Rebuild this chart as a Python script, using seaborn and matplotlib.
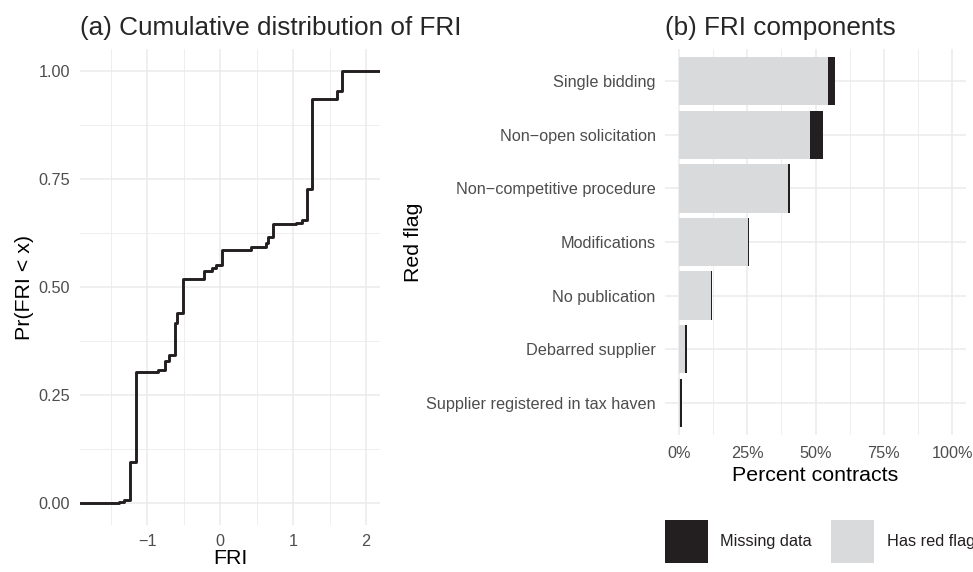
import numpy as np
import pandas as pd
import matplotlib
matplotlib.use("Agg")
import matplotlib.pyplot as plt
from matplotlib.patches import Patch
from matplotlib.ticker import FuncFormatter, MultipleLocator
import seaborn as sns

# ---------------- data ----------------
# Panel (a): ECDF of FRI, jump locations and cumulative share after each jump
fri_x = [-1.39, -1.32, -1.233, -1.15, -0.845, -0.753, -0.694, -0.616, -0.594,
         -0.511, -0.219, -0.114, -0.055, 0.023, 0.42, 0.63, 0.662, 0.73,
         1.04, 1.12, 1.196, 1.265, 1.598, 1.676]
fri_cdf = [0.002, 0.008, 0.096, 0.304, 0.308, 0.329, 0.343, 0.416, 0.441,
           0.518, 0.537, 0.545, 0.551, 0.585, 0.593, 0.601, 0.616, 0.646,
           0.649, 0.655, 0.726, 0.935, 0.952, 1.0]
fri_xlim = (-1.92, 2.19)
fri_xticks = [-1, 0, 1, 2]
fri_yticks = [0.0, 0.25, 0.5, 0.75, 1.0]

# Panel (b): FRI components
flags = ["Single bidding", "Non\u2212open solicitation", "Non\u2212competitive procedure",
         "Modifications", "No publication", "Debarred supplier",
         "Supplier registered in tax haven"]
has_flag = [0.544, 0.480, 0.401, 0.251, 0.117, 0.022, 0.004]
missing = [0.027, 0.047, 0.005, 0.005, 0.005, 0.006, 0.007]
pct_ticks = [0, 0.25, 0.5, 0.75, 1.0]
legend_labels = ["Missing data", "Has red flag"]

# ---------------- style ----------------
sns.set_theme(style="white")
plt.rcParams["font.family"] = ["Liberation Sans", "DejaVu Sans"]
GRID = "#ebebeb"
TICK = "#4d4d4d"
BLACK = "#231f20"
GREY = "#d9dadb"
TICK_FS = 11.7
LAB_FS = 15.4
TITLE_FS = 18.8

fig = plt.figure(figsize=(9.73, 5.72), dpi=100)
W, H = 973, 572


def add_ax(l, t, r, b):
    return fig.add_axes([l / W, 1 - b / H, (r - l) / W, (b - t) / H])


def style(ax, xpad=8):
    for s in ax.spines.values():
        s.set_visible(False)
    ax.tick_params(axis="both", which="both", length=0, colors=TICK,
                   labelsize=TICK_FS)
    ax.tick_params(axis="x", pad=xpad)
    ax.tick_params(axis="y", pad=7)
    ax.set_axisbelow(True)


# ---------------- panel (a) ----------------
ax1 = add_ax(80, 49, 380, 525)
style(ax1, xpad=6.5)
ecdf_df = pd.DataFrame({
    "FRI": [fri_xlim[0]] + fri_x + [fri_xlim[1]],
    "p": [0.0] + fri_cdf + [fri_cdf[-1]],
})
sns.lineplot(data=ecdf_df, x="FRI", y="p", drawstyle="steps-post",
             color=BLACK, linewidth=2.1, ax=ax1)
ax1.set_xlim(*fri_xlim)
ax1.set_ylim(-0.05, 1.05)
ax1.set_xticks(fri_xticks)
ax1.set_xticklabels([str(t).replace("-", "\u2212") for t in fri_xticks])
ax1.xaxis.set_minor_locator(MultipleLocator(0.5))
ax1.set_yticks(fri_yticks)
ax1.set_yticklabels([f"{t:.2f}" for t in fri_yticks])
ax1.yaxis.set_minor_locator(MultipleLocator(0.125))
ax1.grid(which="major", color=GRID, linewidth=1.1)
ax1.grid(which="minor", color=GRID, linewidth=0.6)
ax1.set_xlabel("FRI", fontsize=LAB_FS, color="black", labelpad=0)
ax1.set_ylabel("Pr(FRI < x)", fontsize=LAB_FS, color="black", labelpad=3)
ax1.set_title("(a) Cumulative distribution of FRI", fontsize=TITLE_FS,
              loc="left", pad=10, x=0.0)

# ---------------- panel (b) ----------------
ax2 = add_ax(665.3, 49, 965.7, 435)
style(ax2)
bar_df = pd.DataFrame({
    "flag": flags,
    "has": has_flag,
    "total": [h + m for h, m in zip(has_flag, missing)],
})
sns.barplot(data=bar_df, y="flag", x="total", orient="h", color=BLACK,
            saturation=1, width=0.9, ax=ax2, order=flags, linewidth=0)
sns.barplot(data=bar_df, y="flag", x="has", orient="h", color=GREY,
            saturation=1, width=0.9, ax=ax2, order=flags, linewidth=0)
ax2.set_xlim(-0.05, 1.05)
ax2.set_ylim(len(flags) - 0.4, -0.6)
ax2.set_xticks(pct_ticks)
ax2.xaxis.set_major_formatter(FuncFormatter(lambda v, p: f"{v*100:.0f}%"))
ax2.xaxis.set_minor_locator(MultipleLocator(0.125))
ax2.grid(axis="x", which="major", color=GRID, linewidth=1.1)
ax2.grid(axis="x", which="minor", color=GRID, linewidth=0.6)
ax2.grid(axis="y", which="major", color=GRID, linewidth=1.1)
ax2.set_xlabel("Percent contracts", fontsize=LAB_FS, color="black", labelpad=3.5)
ax2.set_ylabel("Red flag", fontsize=LAB_FS, color="black", labelpad=2)
ax2.set_title("(b) FRI components", fontsize=TITLE_FS, loc="left", pad=10)
ax2.title.set_position((-0.005, 1.0))

# legend
handles = [Patch(facecolor=BLACK, edgecolor="none"),
           Patch(facecolor=GREY, edgecolor="none")]
fig.legend(handles, legend_labels, ncol=2, loc="lower left",
           bbox_to_anchor=(665 / W, 9 / H), frameon=False,
           fontsize=TICK_FS, handlelength=2.65, handleheight=3.7,
           handletextpad=0.75, columnspacing=1.2, borderpad=0,
           borderaxespad=0, labelcolor=BLACK)

fig.savefig("out.png", dpi=100)
